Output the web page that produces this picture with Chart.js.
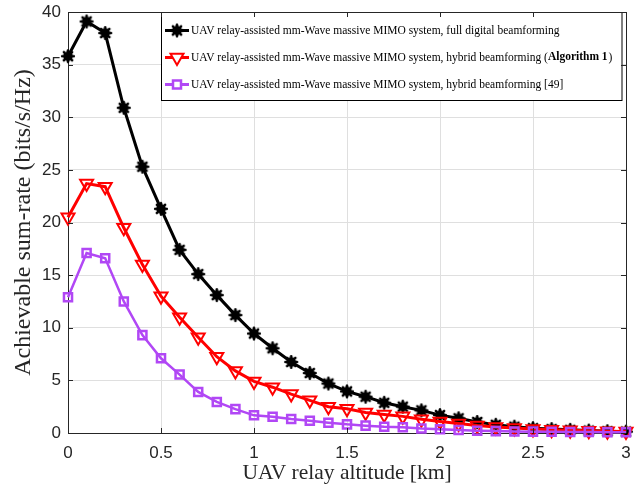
<!DOCTYPE html>
<html lang="en">
<head>
<meta charset="UTF-8">
<title>Achievable sum-rate vs UAV relay altitude</title>
<style>
  body { margin: 0; background: #ffffff; }
  #wrap { width: 643px; height: 487px; }
</style>
</head>
<body>
<div id="wrap"><canvas id="rate-chart" width="643" height="487"></canvas></div>
<script src="https://cdn.jsdelivr.net/npm/chart.js"></script>
<script>
// UAV relay altitude [km]
const altitudes = [0, 0.1, 0.2, 0.3, 0.4, 0.5, 0.6, 0.7, 0.8, 0.9, 1.0,
                   1.1, 1.2, 1.3, 1.4, 1.5, 1.6, 1.7, 1.8, 1.9, 2.0,
                   2.1, 2.2, 2.3, 2.4, 2.5, 2.6, 2.7, 2.8, 2.9, 3.0];

// achievable sum-rate (bits/s/Hz)
const fullDigital = [35.8, 39.1, 38.0, 30.9, 25.3, 21.3, 17.4, 15.1, 13.1, 11.2, 9.45,
                     8.05, 6.75, 5.7, 4.7, 3.95, 3.45, 2.87, 2.5, 2.15, 1.7,
                     1.4, 1.05, 0.78, 0.6, 0.46, 0.37, 0.3, 0.23, 0.17, 0.13];
const hybridAlg1 = [20.5, 23.7, 23.4, 19.5, 16.0, 13.0, 11.0, 9.1, 7.25, 5.9, 4.9,
                    4.35, 3.7, 3.1, 2.5, 2.3, 1.95, 1.75, 1.58, 1.3, 1.1,
                    0.9, 0.72, 0.58, 0.47, 0.38, 0.31, 0.26, 0.21, 0.17, 0.14];
const hybridRef49 = [12.9, 17.1, 16.6, 12.5, 9.3, 7.1, 5.55, 3.9, 2.95, 2.27, 1.68,
                     1.55, 1.33, 1.17, 0.98, 0.82, 0.7, 0.6, 0.54, 0.42, 0.35,
                     0.29, 0.22, 0.18, 0.15, 0.13, 0.11, 0.1, 0.09, 0.08, 0.07];

const xTicks = [0, 0.5, 1, 1.5, 2, 2.5, 3];
const yTicks = [0, 5, 10, 15, 20, 25, 30, 35, 40];

// legend text, split where the bold part starts
const legendLabels = [
  ['UAV relay-assisted mm-Wave massive MIMO system, full digital beamforming'],
  ['UAV relay-assisted mm-Wave massive MIMO system, hybrid beamforming (', 'Algorithm 1', ')'],
  ['UAV relay-assisted mm-Wave massive MIMO system, hybrid beamforming [49]']
];

const BLACK = '#000000';
const RED = '#ff0000';
const PURPLE = '#b147f5';
const AXIS = '#262626';

function toPoints(ys) {
  return altitudes.map((x, i) => ({ x: x, y: ys[i] }));
}

// MATLAB-like '*' marker drawn with a thick pen
function asteriskMarker(color) {
  const c = document.createElement('canvas');
  c.width = 16; c.height = 16;
  const g = c.getContext('2d');
  g.translate(8, 8);
  g.fillStyle = color;
  g.strokeStyle = color;
  g.beginPath();
  g.arc(0, 0, 4.8, 0, Math.PI * 2);
  g.fill();
  g.lineWidth = 2.6;
  g.lineCap = 'round';
  for (let i = 0; i < 4; i++) {
    const a = i * Math.PI / 4;
    g.beginPath();
    g.moveTo(-5.8 * Math.cos(a), -5.8 * Math.sin(a));
    g.lineTo(5.8 * Math.cos(a), 5.8 * Math.sin(a));
    g.stroke();
  }
  return c;
}
const starImg = asteriskMarker(BLACK);

// legend box in the upper right of the plot
const legendBox = {
  id: 'legendBox',
  afterDatasetsDraw(chart) {
    const ctx = chart.ctx;
    const area = chart.chartArea;
    const x0 = 161.5, y0 = area.top + 0.5, w = area.right - 4 - x0, h = 88;
    ctx.save();
    ctx.fillStyle = '#ffffff';
    ctx.fillRect(x0, y0, w, h);
    ctx.strokeStyle = BLACK;
    ctx.lineWidth = 1;
    ctx.strokeRect(x0, y0, w, h);

    const rows = [y0 + 18, y0 + 45, y0 + 72];
    const colors = [BLACK, RED, PURPLE];
    rows.forEach((cy, i) => {
      const cx = 177;
      ctx.strokeStyle = colors[i];
      ctx.lineWidth = 3;
      ctx.beginPath();
      ctx.moveTo(165, cy);
      ctx.lineTo(189, cy);
      ctx.stroke();
      if (i === 0) {
        ctx.drawImage(starImg, cx - 8, cy - 8);
      } else if (i === 1) {
        const r = 7.5;
        ctx.fillStyle = '#ffffff';
        ctx.lineWidth = 2;
        ctx.beginPath();
        ctx.moveTo(cx, cy + r);
        ctx.lineTo(cx - r * 0.866, cy - r / 2);
        ctx.lineTo(cx + r * 0.866, cy - r / 2);
        ctx.closePath();
        ctx.fill();
        ctx.stroke();
      } else {
        ctx.fillStyle = '#ffffff';
        ctx.lineWidth = 2.5;
        ctx.fillRect(cx - 4, cy - 4, 8, 8);
        ctx.strokeRect(cx - 4, cy - 4, 8, 8);
      }
      let tx = 191;
      ctx.fillStyle = BLACK;
      ctx.textBaseline = 'middle';
      ctx.textAlign = 'left';
      legendLabels[i].forEach((part, j) => {
        ctx.font = (j === 1 ? 'bold ' : '') + '11.5px "Liberation Serif"';
        ctx.fillText(part, tx, cy);
        tx += ctx.measureText(part).width + (j === 1 ? 1 : 0);
      });
    });
    ctx.restore();
  }
};

// top/right box and inward tick marks
const axesFrame = {
  id: 'axesFrame',
  afterDraw(chart) {
    const ctx = chart.ctx;
    const { left, right, top, bottom } = chart.chartArea;
    const xs = chart.scales.x, ys = chart.scales.y;
    ctx.save();
    ctx.strokeStyle = AXIS;
    ctx.lineWidth = 1;
    ctx.beginPath();
    ctx.moveTo(left, top + 0.5); ctx.lineTo(right + 0.5, top + 0.5);
    ctx.lineTo(right + 0.5, bottom);
    xTicks.forEach(v => {
      const px = Math.round(xs.getPixelForValue(v)) + 0.5;
      ctx.moveTo(px, bottom); ctx.lineTo(px, bottom - 5);
      ctx.moveTo(px, top); ctx.lineTo(px, top + 5);
    });
    yTicks.forEach(v => {
      const py = Math.round(ys.getPixelForValue(v)) + 0.5;
      ctx.moveTo(left, py); ctx.lineTo(left + 5, py);
      ctx.moveTo(right, py); ctx.lineTo(right - 5, py);
    });
    ctx.stroke();
    ctx.restore();
  }
};

const tickFont = { family: '"Liberation Sans", Arial, sans-serif', size: 17 };
const serif = '"Liberation Serif", "Times New Roman", serif';

new Chart(document.getElementById('rate-chart'), {
  type: 'line',
  data: {
    datasets: [
      {
        label: 'full digital',
        data: toPoints(fullDigital),
        borderColor: BLACK,
        backgroundColor: BLACK,
        borderWidth: 3,
        pointStyle: starImg,
        pointRadius: 6,
        clip: false,
        order: 3
      },
      {
        label: 'hybrid (Algorithm 1)',
        data: toPoints(hybridAlg1),
        borderColor: RED,
        backgroundColor: 'rgba(255,255,255,0)',
        borderWidth: 3,
        pointStyle: 'triangle',
        pointRotation: 180,
        pointRadius: 7.5,
        pointBorderWidth: 2,
        clip: false,
        order: 2
      },
      {
        label: 'hybrid [49]',
        data: toPoints(hybridRef49),
        borderColor: PURPLE,
        backgroundColor: 'rgba(255,255,255,0)',
        borderWidth: 2.5,
        pointStyle: 'rect',
        pointRadius: 5.7,
        pointBorderWidth: 2.5,
        clip: false,
        order: 1
      }
    ]
  },
  options: {
    responsive: false,
    animation: false,
    devicePixelRatio: 1,
    layout: { autoPadding: false, padding: { top: 12, right: 17, left: 0, bottom: 0 } },
    plugins: {
      legend: { display: false },
      tooltip: { enabled: false }
    },
    scales: {
      x: {
        type: 'linear',
        min: 0,
        max: 3,
        afterFit: s => { s.height = 54; s.paddingLeft = 0; s.paddingRight = 0; },
        afterBuildTicks: s => { s.ticks = xTicks.map(v => ({ value: v })); },
        ticks: { color: AXIS, font: tickFont, padding: 10, maxRotation: 0, callback: v => String(v) },
        grid: { color: '#dfdfdf', drawTicks: false },
        border: { display: true, color: AXIS, width: 1 },
        title: {
          display: true,
          text: 'UAV relay altitude [km]',
          color: AXIS,
          font: { family: serif, size: 21.5 },
          padding: { top: 0, bottom: 1 }
        }
      },
      y: {
        min: 0,
        max: 40,
        afterFit: s => { s.width = 68; s.paddingTop = 0; s.paddingBottom = 0; },
        afterBuildTicks: s => { s.ticks = yTicks.map(v => ({ value: v })); },
        ticks: { color: AXIS, font: tickFont, padding: 7 },
        grid: { color: '#dfdfdf', drawTicks: false },
        border: { display: true, color: AXIS, width: 1 },
        title: {
          display: true,
          text: 'Achievable sum-rate (bits/s/Hz)',
          color: AXIS,
          font: { family: serif, size: 24 },
          padding: { top: 9, bottom: 0 }
        }
      }
    }
  },
  plugins: [legendBox, axesFrame]
});
</script>
</body>
</html>
